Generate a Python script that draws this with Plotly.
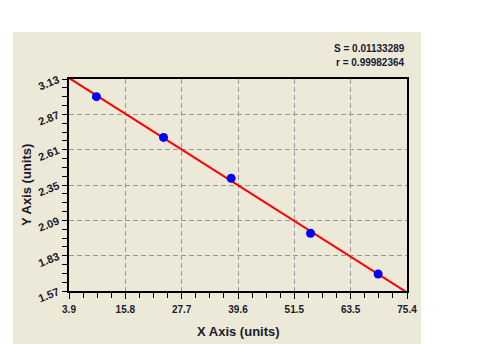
import numpy as np
import plotly.graph_objects as go

x_vals = [9.7, 23.9, 38.2, 55.0, 69.3]
y_vals = [3.00, 2.70, 2.40, 1.995, 1.695]
x_ticks = ["3.9", "15.8", "27.7", "39.6", "51.5", "63.5", "75.4"]
y_ticks = ["1.57", "1.83", "2.09", "2.35", "2.61", "2.87", "3.13"]
stats_text = ["S = 0.01133289", "r = 0.99982364"]
x_title = "X Axis (units)"
y_title = "Y Axis (units)"

x_min, x_max = 3.9, 75.4
y_min, y_max = 1.57, 3.13

slope, intercept = np.polyfit(x_vals, y_vals, 1)
fx = np.array([x_min, x_max])
fy = slope * fx + intercept

FONT = "Arial, Liberation Sans, sans-serif"
TXT = "#1a1a2a"

fig = go.Figure()
fig.add_trace(go.Scatter(x=fx, y=fy, mode="lines",
                         line=dict(color="#ff0000", width=2), hoverinfo="skip"))
fig.add_trace(go.Scatter(x=x_vals, y=y_vals, mode="markers",
                         marker=dict(color="#0000ff", size=9, line=dict(width=0))))

xt = [x_min + i * (x_max - x_min) / 6 for i in range(7)]
yt = [y_min + i * (y_max - y_min) / 6 for i in range(7)]

fig.add_shape(type="rect", xref="paper", yref="paper",
              x0=-0.1657, x1=1.0414, y0=-0.26, y1=1.2217,
              fillcolor="#ECE9D8", line=dict(width=0), layer="below")

fig.update_layout(
    width=489, height=344,
    margin=dict(l=69, r=82, t=79, b=53, autoexpand=False),
    paper_bgcolor="white", plot_bgcolor="white",
    showlegend=False,
    font=dict(family=FONT, color=TXT),
    xaxis=dict(range=[x_min, x_max], tickvals=xt, ticktext=x_ticks,
               showgrid=True, gridcolor="#9a9a9a", griddash="5px,3px", gridwidth=1,
               zeroline=False, showline=True, linecolor="black", linewidth=1.5, mirror=True,
               ticks="outside", ticklen=6, tickcolor="black", ticklabelstandoff=2,
               minor=dict(ticks="outside", ticklen=5, tickcolor="black", tick0=x_min,
                          dtick=(x_max - x_min) / 24, showgrid=False),
               tickfont=dict(size=10, family=FONT, weight="bold", color=TXT)),
    yaxis=dict(range=[y_min, y_max], tickvals=yt, ticktext=y_ticks,
               showgrid=True, gridcolor="#9a9a9a", griddash="5px,3px", gridwidth=1,
               zeroline=False, showline=True, linecolor="black", linewidth=1.5, mirror=True,
               ticks="outside", ticklen=5, tickcolor="black", tickangle=-22,
               ticklabelstandoff=2,
               minor=dict(ticks="outside", ticklen=5, tickcolor="black", tick0=y_min,
                          dtick=(y_max - y_min) / 24, showgrid=False),
               tickfont=dict(size=11, family=FONT, weight="bold", color=TXT)),
    annotations=[
        dict(text=stats_text[0], xref="paper", yref="paper", x=1.0, y=1.145,
             xanchor="right", yanchor="middle", showarrow=False,
             font=dict(size=10, family=FONT, weight="bold", color=TXT)),
        dict(text=stats_text[1], xref="paper", yref="paper", x=1.0, y=1.08,
             xanchor="right", yanchor="middle", showarrow=False,
             font=dict(size=10, family=FONT, weight="bold", color=TXT)),
        dict(text=x_title, xref="paper", yref="paper", x=0.5, y=-0.193,
             xanchor="center", yanchor="middle", showarrow=False,
             font=dict(size=13, family=FONT, weight="bold", color=TXT)),
        dict(text=y_title, xref="paper", yref="paper", x=-0.127, y=0.5,
             xanchor="center", yanchor="middle", showarrow=False, textangle=-90,
             font=dict(size=13, family=FONT, weight="bold", color=TXT)),
    ],
)

fig.write_html("out.html")
